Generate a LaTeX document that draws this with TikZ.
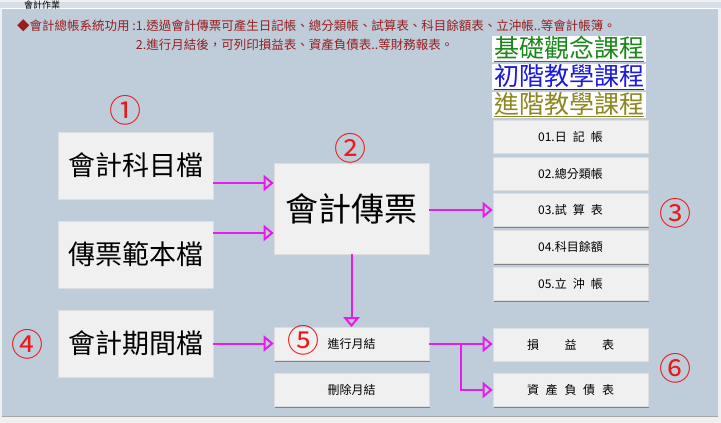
\documentclass[tikz,border=0pt]{standalone}
\usepackage{fontspec}
\setmainfont{Noto Sans CJK TC}
\usepackage{tikz}
\usetikzlibrary{arrows.meta,positioning,calc,shadows}
\definecolor{panelblue}{RGB}{191,205,219}
\definecolor{topband}{RGB}{214,223,232}
\definecolor{winface}{RGB}{240,240,240}
\definecolor{btnface}{RGB}{240,240,240}
\definecolor{btnedge}{RGB}{222,222,222}
\definecolor{btnshade}{RGB}{130,130,130}
\definecolor{flowpink}{RGB}{232,28,232}
\definecolor{numred}{RGB}{235,25,25}
\definecolor{headred}{RGB}{150,30,30}
\definecolor{basicgreen}{RGB}{25,135,25}
\definecolor{introblue}{RGB}{25,25,225}
\definecolor{advolive}{RGB}{140,135,30}

\begin{document}
\begin{tikzpicture}[x=1pt, y=-1pt,
    btn/.style={rectangle, draw=btnedge, fill=btnface, line width=0.6pt, inner sep=0pt, minimum width=155pt, drop shadow={shadow xshift=1.4pt, shadow yshift=-1.4pt, fill=btnshade, opacity=1}},
    bigbtn/.style={btn, minimum height=67pt, font=\fontsize{27}{27}\selectfont},
    smallbtn/.style={btn, minimum height=33pt, font=\fontsize{12}{12}\selectfont},
    course/.style={rectangle, fill=white, inner sep=0pt, minimum width=154pt, minimum height=26pt, font=\fontsize{25}{25}\selectfont},
    num/.style={text=numred, inner sep=0pt, font=\fontsize{32}{32}\selectfont},
    flow/.style={draw=flowpink, line width=2pt, -{Triangle[open, length=10pt, width=16pt]}}
]
\useasboundingbox (0,0) rectangle (721,423);
\fill[winface] (0,0) rectangle (721,423);
\fill[topband] (0,2) rectangle (721,8);
\fill[panelblue] (2,8) rectangle (718,416);
\draw[white, line width=1pt] (2,8) -- (718,8);
\draw[black!35, line width=1pt] (2,416.5) -- (718,416.5);
\node[anchor=west, inner sep=0pt, font=\fontsize{9}{9}\selectfont] (title) at (24,5) {會計作業};

\node[anchor=north west, align=left, text=headred, inner sep=0pt, font=\fontsize{12.5}{19}\selectfont] (intro) at (17,19) {◆會計總帳系統功用 :1.透過會計傳票可產生日記帳、總分類帳、試算表、科目餘額表、立沖帳..等會計帳簿。\\\phantom{◆會計總帳系統功用 :}2.進行月結後，可列印損益表、資產負債表..等財務報表。};

\node[course, text=basicgreen] (basic) at (569,49) {\underline{基礎觀念課程}};
\node[course, text=introblue] (beginner) at (569,77) {\underline{初階教學課程}};
\node[course, text=advolive] (advanced) at (569,104.5) {\underline{進階教學課程}};

\node[bigbtn] (subj) at (135.5,165.5) {會計科目檔};
\node[bigbtn] (tmpl) at (135.5,254.5) {傳票範本檔};
\node[bigbtn] (period) at (135.5,343.5) {會計期間檔};
\node[btn, minimum height=91pt, font=\fontsize{33}{33}\selectfont] (voucher) at (351.5,208.5) {會計傳票};
\node[smallbtn] (close) at (351.5,344) {進行月結};
\node[smallbtn] (undo) at (351.5,390) {刪除月結};

\node[smallbtn] (journal) at (570.5,136.5) {01.日\enspace 記\enspace 帳};
\node[smallbtn] (ledger) at (570.5,173.5) {02.總分類帳};
\node[smallbtn] (trial) at (570.5,210) {03.試\enspace 算\enspace 表};
\node[smallbtn] (balance) at (570.5,247) {04.科目餘額};
\node[smallbtn] (offset) at (570.5,284) {05.立\enspace 沖\enspace 帳};
\node[smallbtn] (income) at (570.5,344.5) {\makebox[87pt][s]{損\hfill 益\hfill 表}};
\node[smallbtn] (sheet) at (570.5,390) {\makebox[87pt][s]{資\hfill 產\hfill 負\hfill 債\hfill 表}};

\node[num] (n1) at (125,110) {①};
\node[num] (n2) at (350,148) {②};
\node[num] (n3) at (675,213) {③};
\node[num] (n4) at (27,344) {④};
\node[num] (n5) at (303,340) {⑤};
\node[num] (n6) at (675,368) {⑥};

\draw[flow] ([yshift=-17.5pt]subj.east) -- ([yshift=-17.5pt]subj.east -| voucher.west);
\draw[flow] ([yshift=21.5pt]tmpl.east) -- ([yshift=21.5pt]tmpl.east -| voucher.west);
\draw[flow] ([yshift=-1.5pt]voucher.east) -- ([yshift=-1.5pt]voucher.east -| trial.west);
\draw[flow] (voucher.south) -- (close.north);
\draw[flow] (period.east) -- (period.east -| close.west);
\draw[flow] (close.east) -- (close.east -| income.west);
\draw[flow] ([xshift=32pt]close.east) |- (sheet.west);
\end{tikzpicture}
\end{document}
